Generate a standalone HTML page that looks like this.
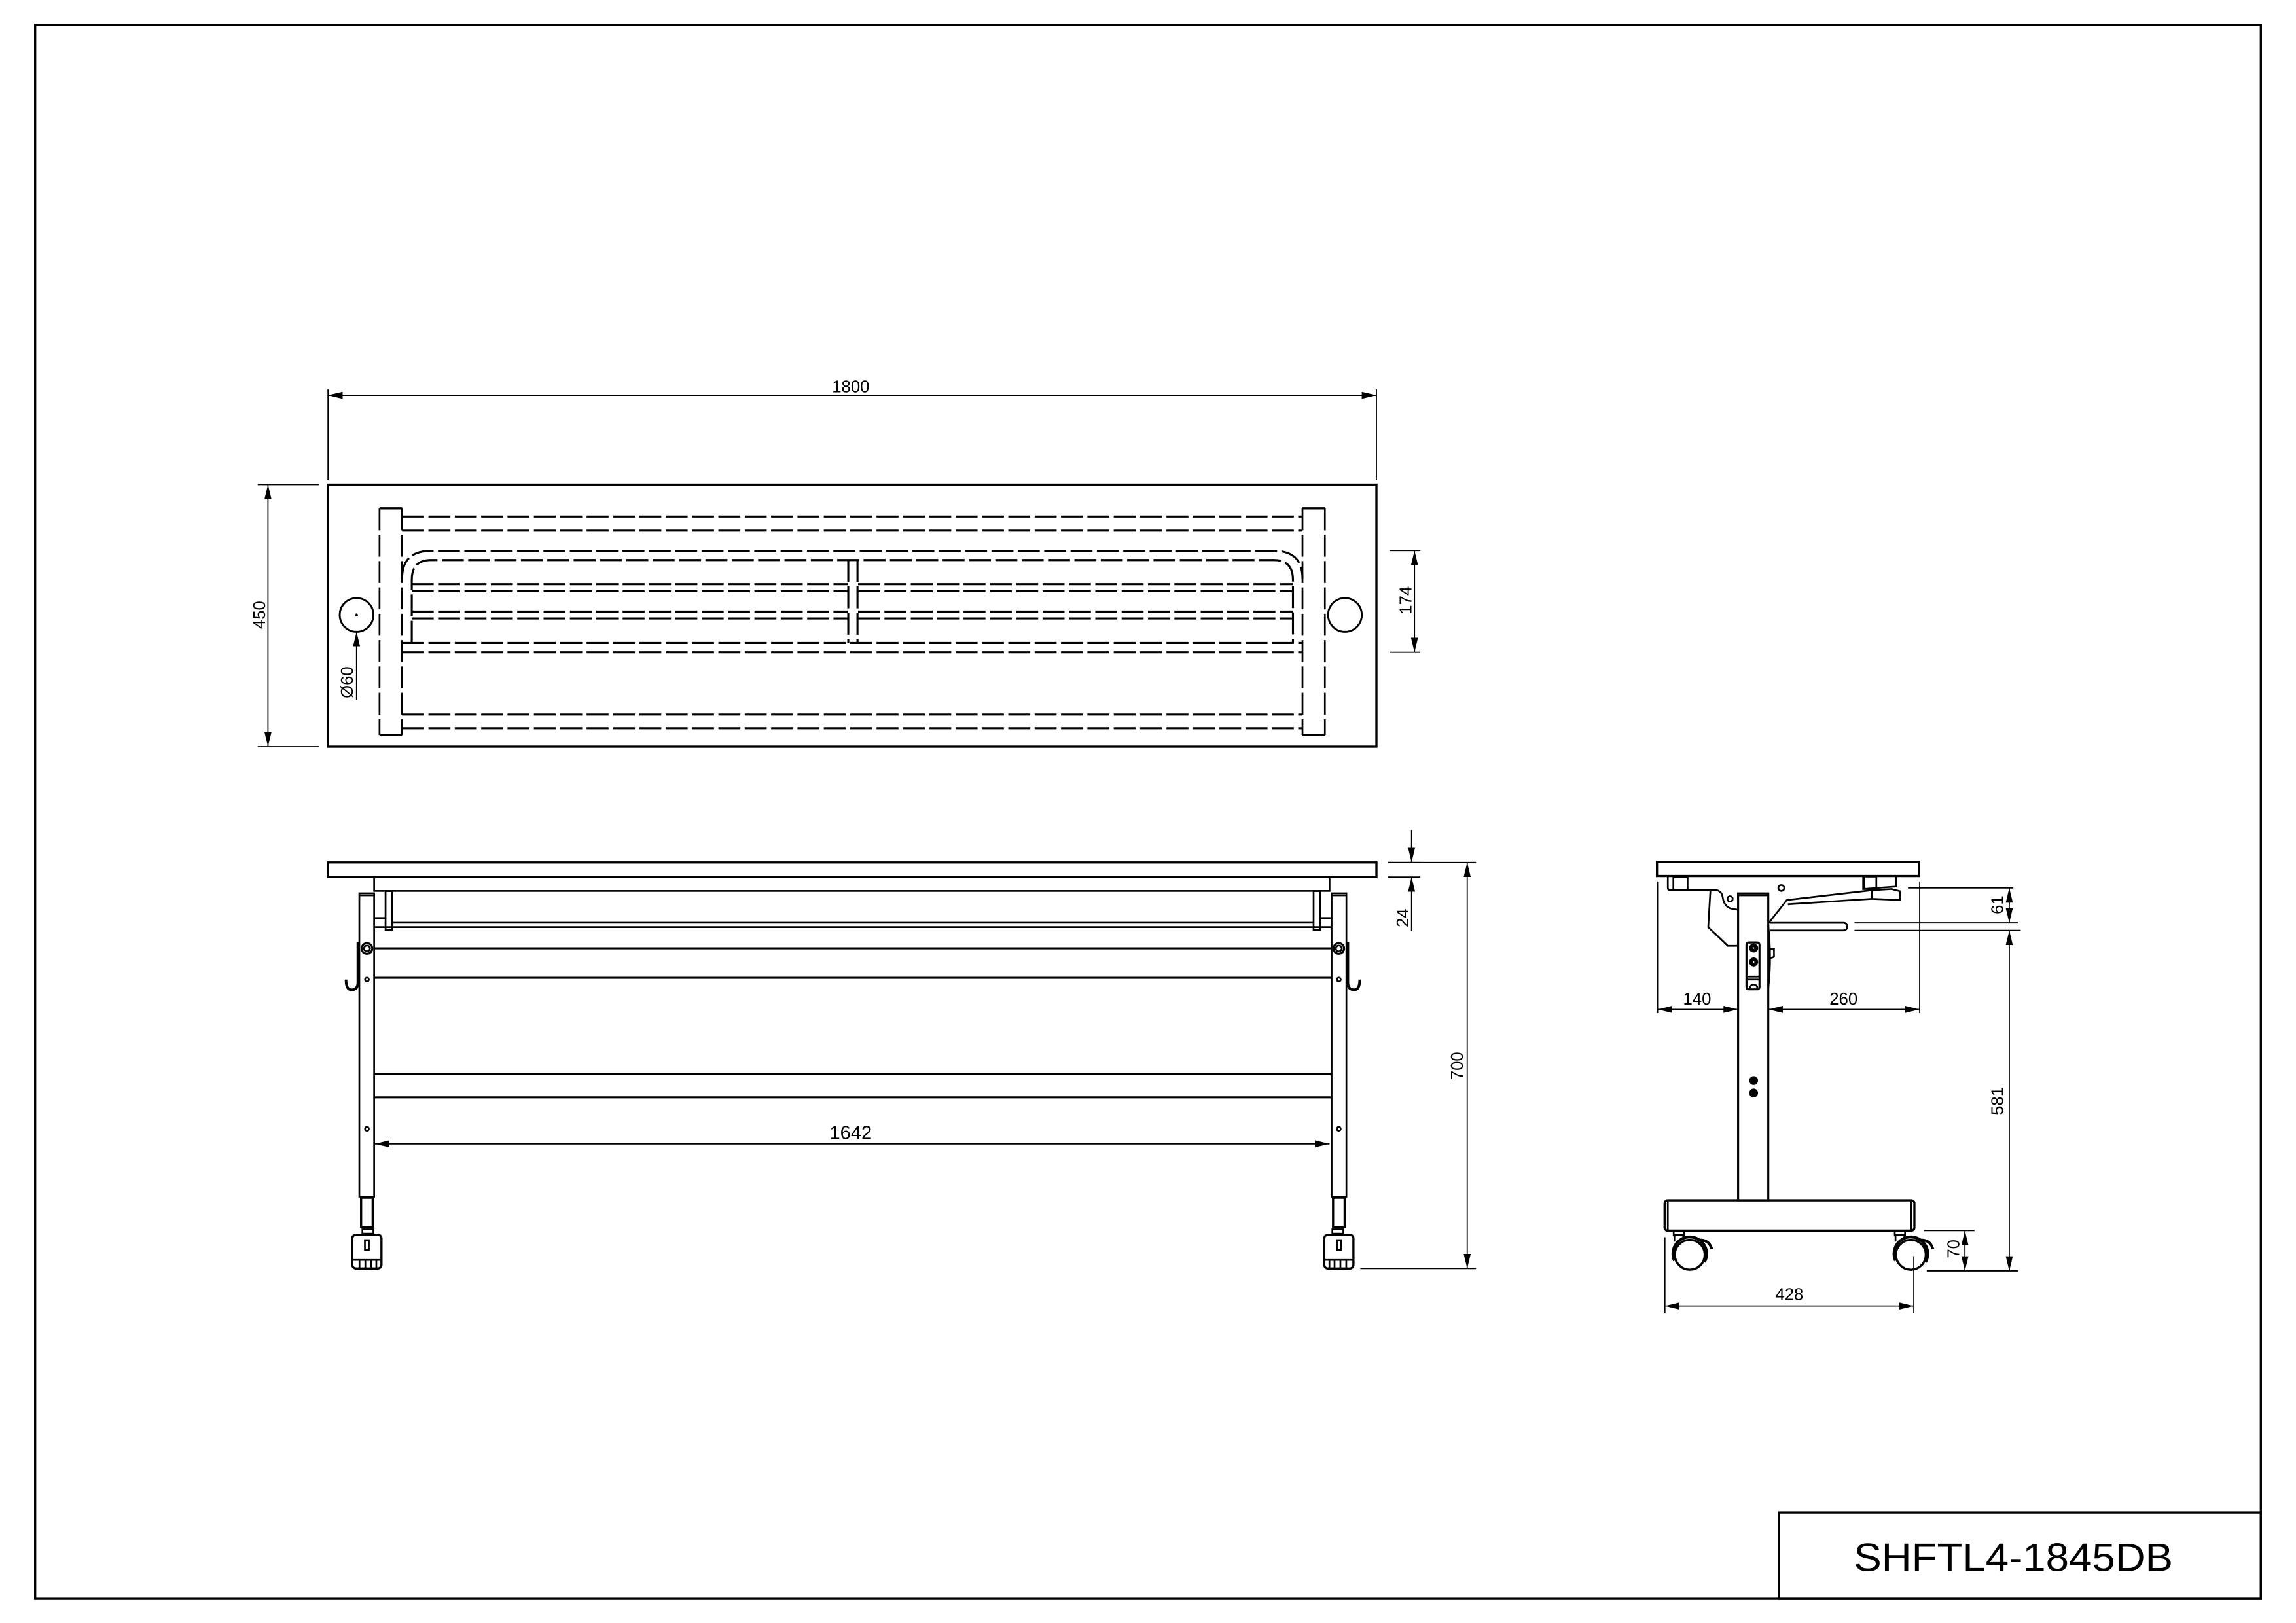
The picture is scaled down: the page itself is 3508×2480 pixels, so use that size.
<!DOCTYPE html>
<html><head><meta charset="utf-8"><style>
html,body{margin:0;padding:0;background:#fff}
svg{display:block}
text{font-family:"Liberation Sans",Arial,sans-serif;fill:#000}
</style></head><body>
<svg width="3508" height="2480" viewBox="0 0 1568 1108.5" preserveAspectRatio="none" xmlns="http://www.w3.org/2000/svg">
<defs>
<marker id="a" viewBox="0 0 10 6" refX="10" refY="3" markerWidth="10" markerHeight="6" markerUnits="userSpaceOnUse" orient="auto-start-reverse"><path d="M0,0.6 L10,3 L0,5.4 Z" fill="#000"/></marker>
</defs>
<g fill="none" stroke="#000" stroke-width="1.2">
<!-- frame -->
<rect x="24" y="17" width="1520" height="1075" stroke-width="1.5"/>
<rect x="1215" y="1033" width="329" height="59" stroke-width="1.5"/>

<!-- ===== TOP VIEW ===== -->
<rect x="224" y="331" width="716" height="179" stroke-width="1.5"/>
<line x1="224" y1="266" x2="224" y2="328" stroke-width="0.8"/>
<line x1="940" y1="266" x2="940" y2="328" stroke-width="0.8"/>
<line x1="224" y1="270" x2="940" y2="270" stroke-width="0.8" marker-start="url(#a)" marker-end="url(#a)"/>
<line x1="176" y1="331" x2="218" y2="331" stroke-width="0.8"/>
<line x1="176" y1="510" x2="218" y2="510" stroke-width="0.8"/>
<line x1="183" y1="331" x2="183" y2="510" stroke-width="0.8" marker-start="url(#a)" marker-end="url(#a)"/>
<line x1="949" y1="376" x2="970" y2="376" stroke-width="0.8"/>
<line x1="949" y1="445.5" x2="970" y2="445.5" stroke-width="0.8"/>
<line x1="966" y1="376" x2="966" y2="445.5" stroke-width="0.8" marker-start="url(#a)" marker-end="url(#a)"/>
<circle cx="243.5" cy="420" r="11.5" stroke-width="1.3"/>
<circle cx="243.5" cy="420" r="0.4" fill="#000"/>
<circle cx="918.5" cy="420" r="11.5" stroke-width="1.3"/>
<line x1="243.5" y1="478" x2="243.5" y2="431.5" stroke-width="0.8" marker-end="url(#a)"/>
<line x1="259.2" y1="347.2" x2="274.6" y2="347.2" stroke-width="1.5"/>
<line x1="259.2" y1="502" x2="274.6" y2="502" stroke-width="1.5"/>
<line x1="259.2" y1="347.2" x2="259.2" y2="502" stroke-dasharray="15 3"/>
<line x1="274.6" y1="347.2" x2="274.6" y2="502" stroke-dasharray="15 3"/>
<line x1="889.5" y1="347.2" x2="904.8" y2="347.2" stroke-width="1.5"/>
<line x1="889.5" y1="502" x2="904.8" y2="502" stroke-width="1.5"/>
<line x1="889.5" y1="347.2" x2="889.5" y2="502" stroke-dasharray="15 3"/>
<line x1="904.8" y1="347.2" x2="904.8" y2="502" stroke-dasharray="15 3"/>
<g stroke-dasharray="15 3" stroke-width="1.4">
<line x1="274.6" y1="352.8" x2="889.5" y2="352.8"/>
<line x1="274.6" y1="362.4" x2="889.5" y2="362.4"/>
<line x1="274.6" y1="439.1" x2="889.5" y2="439.1"/>
<line x1="274.6" y1="445.5" x2="889.5" y2="445.5"/>
<line x1="274.6" y1="488" x2="889.5" y2="488"/>
<line x1="274.6" y1="497.4" x2="889.5" y2="497.4"/>
<path d="M274.6,395 Q274.6,376.2 294.3,376.2 L870,376.2 Q889.5,376.2 889.5,395"/>
<path d="M281.2,439 L281.2,396 Q281.2,382.5 294.3,382.5 L870,382.5 Q883,382.5 883,396 L883,439"/>
<line x1="281.2" y1="399" x2="579" y2="399"/>
<line x1="281.2" y1="403.8" x2="579" y2="403.8"/>
<line x1="281.2" y1="417.7" x2="579" y2="417.7"/>
<line x1="281.2" y1="422.4" x2="579" y2="422.4"/>
<line x1="586" y1="399" x2="883" y2="399"/>
<line x1="586" y1="403.8" x2="883" y2="403.8"/>
<line x1="586" y1="417.7" x2="883" y2="417.7"/>
<line x1="586" y1="422.4" x2="883" y2="422.4"/>
<line x1="579.3" y1="382.5" x2="579.3" y2="439"/>
<line x1="585.6" y1="382.5" x2="585.6" y2="439"/>
</g>

<!-- ===== FRONT VIEW ===== -->
<rect x="224" y="589" width="716" height="10" stroke-width="1.5"/>
<rect x="255.5" y="599" width="652.5" height="9.5"/>
<line x1="267.8" y1="630.2" x2="897" y2="630.2"/>
<line x1="255.5" y1="633.2" x2="909" y2="633.2"/>
<line x1="255.5" y1="627" x2="263.3" y2="627"/>
<line x1="901" y1="627" x2="909" y2="627"/>
<line x1="255.5" y1="647.7" x2="909" y2="647.7" stroke-width="1.4"/>
<line x1="255.5" y1="667.8" x2="909" y2="667.8" stroke-width="1.4"/>
<line x1="255.5" y1="733.6" x2="909" y2="733.6" stroke-width="1.4"/>
<line x1="255.5" y1="749.5" x2="909" y2="749.5" stroke-width="1.4"/>
<line x1="256" y1="781.2" x2="908" y2="781.2" stroke-width="0.9" marker-start="url(#a)" marker-end="url(#a)"/>
<g id="leg">
<rect x="263.3" y="608.6" width="4.5" height="26.5"/>
<rect x="245.4" y="610.1" width="10.1" height="207.2"/>
<line x1="245.4" y1="611.5" x2="255.5" y2="611.5"/>
<rect x="246.6" y="818" width="7.9" height="20" stroke-width="1.5"/>
<rect x="247.5" y="839.6" width="7.5" height="3"/>
<rect x="240.6" y="843.3" width="19.9" height="23.1" rx="2.5" stroke-width="1.5"/>
<rect x="249.2" y="847" width="2.7" height="6.7"/>
<line x1="241" y1="860.5" x2="260" y2="860.5"/>
<line x1="245.5" y1="860.5" x2="245.5" y2="866"/>
<line x1="249.5" y1="860.5" x2="249.5" y2="866"/>
<line x1="253.5" y1="860.5" x2="253.5" y2="866"/>
<line x1="257" y1="860.5" x2="257" y2="866"/>
<circle cx="250.6" cy="647.8" r="3.6" stroke-width="1.4"/>
<circle cx="250.6" cy="647.8" r="2"/>
<circle cx="250.6" cy="669" r="1.3"/>
<circle cx="250.6" cy="771" r="1.3"/>
<path d="M244.4,643.6 L244.4,671 Q244.4,676 240,676 Q236.3,676 236.3,669" stroke-width="1.8"/>
</g>
<use href="#leg" transform="translate(1164.9,0) scale(-1,1)"/>
<line x1="948" y1="589" x2="970" y2="589" stroke-width="0.8"/>
<line x1="948" y1="599" x2="970" y2="599" stroke-width="0.8"/>
<line x1="964" y1="567" x2="964" y2="589" stroke-width="0.8" marker-end="url(#a)"/>
<line x1="964" y1="636" x2="964" y2="599" stroke-width="0.8" marker-end="url(#a)"/>
<line x1="948" y1="589" x2="1008" y2="589" stroke-width="0.8"/>
<line x1="929" y1="866.4" x2="1008" y2="866.4" stroke-width="0.8"/>
<line x1="1002" y1="589" x2="1002" y2="866.4" stroke-width="0.8" marker-start="url(#a)" marker-end="url(#a)"/>

<!-- ===== SIDE VIEW ===== -->
<rect x="1131.6" y="588.6" width="178.8" height="9.7" stroke-width="1.5"/>
<path d="M1139,598.3 L1139,606.3 Q1139,608 1141,608 L1172.6,608 Q1176,609 1176.5,613 Q1177.5,619 1182,620.5 L1187,621.4"/>
<rect x="1142.8" y="599" width="9.7" height="8.6"/>
<path d="M1168.1,608 L1166.6,633.3 L1180,646 L1187,646"/>
<circle cx="1181.5" cy="613.9" r="1.8"/>
<circle cx="1216.5" cy="606.5" r="2"/>
<path d="M1272.4,598.3 L1272.4,607.2 L1294.8,605.5 L1294.8,598.3"/>
<rect x="1273.2" y="598.7" width="8.2" height="8.5"/>
<path d="M1208,630.3 L1220.3,614.7 L1278.4,608 L1291.8,607.2 L1297.5,608.7 L1297.5,614.7 L1278.4,613.9 L1278.4,608"/>
<line x1="1221" y1="617.6" x2="1278.4" y2="613.9"/>
<path d="M1209.1,630.3 L1259,630.3 A2.6,2.6 0 0 1 1259,635.5 L1209.1,635.5"/>
<line x1="1266.5" y1="630.3" x2="1378" y2="630.3" stroke-width="0.9"/>
<line x1="1266.5" y1="635.5" x2="1380" y2="635.5" stroke-width="0.9"/>
<rect x="1187" y="610.2" width="20.6" height="209.6" stroke-width="1.4"/>
<line x1="1187" y1="611.5" x2="1207.6" y2="611.5"/>
<path d="M1207.6,632 Q1210,655 1207.6,675"/>
<path d="M1207.6,648 L1211.5,648 L1211.5,653.5 L1207.6,655"/>
<rect x="1192.7" y="643.7" width="8.9" height="32" rx="1.5" stroke-width="1.4"/>
<circle cx="1197.6" cy="647.5" r="2.5" fill="#000"/>
<circle cx="1197.6" cy="657" r="2.5" fill="#000"/>
<circle cx="1197.6" cy="647.5" r="0.5" fill="#fff" stroke="none"/>
<circle cx="1197.6" cy="657" r="0.5" fill="#fff" stroke="none"/>
<line x1="1193.5" y1="667" x2="1201" y2="667"/>
<line x1="1193.5" y1="669" x2="1201" y2="669"/>
<path d="M1195,675 A2.6,2.6 0 0 1 1200.2,675"/>
<circle cx="1197.6" cy="738" r="2.4" fill="#000"/>
<circle cx="1197.6" cy="746.5" r="2.4" fill="#000"/>
<rect x="1136.8" y="819.8" width="170.6" height="20.7" rx="2" stroke-width="1.5"/>
<line x1="1139" y1="820.5" x2="1139" y2="840"/>
<line x1="1305.2" y1="820.5" x2="1305.2" y2="840"/>
<g id="wh">
<rect x="1143" y="840.5" width="7" height="3"/>
<line x1="1143.5" y1="843.5" x2="1143.5" y2="848"/>
<line x1="1149.5" y1="843.5" x2="1149.5" y2="846"/>
<circle cx="1154" cy="857" r="10.2" stroke-width="1.5"/>
<path d="M1143.5,861 A11.5,11.5 0 1 1 1164,862" stroke-width="2"/>
<path d="M1159,847 Q1167,846 1169,853" stroke-width="1.8"/>
</g>
<use href="#wh" transform="translate(151,0)"/>
<line x1="1132" y1="602" x2="1132" y2="692" stroke-width="0.8"/>
<line x1="1311" y1="602" x2="1311" y2="692" stroke-width="0.8"/>
<line x1="1132" y1="689.4" x2="1187" y2="689.4" stroke-width="0.8" marker-start="url(#a)" marker-end="url(#a)"/>
<line x1="1207.6" y1="689.4" x2="1311" y2="689.4" stroke-width="0.8" marker-start="url(#a)" marker-end="url(#a)"/>
<line x1="1303" y1="606.5" x2="1375" y2="606.5" stroke-width="0.8"/>
<line x1="1372.2" y1="606.5" x2="1372.2" y2="630.3" stroke-width="0.8" marker-start="url(#a)" marker-end="url(#a)"/>
<line x1="1372.2" y1="635.5" x2="1372.2" y2="868" stroke-width="0.8" marker-start="url(#a)" marker-end="url(#a)"/>
<line x1="1314" y1="840.5" x2="1348.4" y2="840.5" stroke-width="0.8"/>
<line x1="1315.8" y1="868" x2="1378" y2="868" stroke-width="0.8"/>
<line x1="1341.9" y1="840.5" x2="1341.9" y2="868" stroke-width="0.8" marker-start="url(#a)" marker-end="url(#a)"/>
<line x1="1137" y1="845" x2="1137" y2="897" stroke-width="0.8"/>
<line x1="1307" y1="858" x2="1307" y2="897" stroke-width="0.8"/>
<line x1="1137" y1="892" x2="1307" y2="892" stroke-width="0.8" marker-start="url(#a)" marker-end="url(#a)"/>
</g>

<g font-size="11.5">
<text x="581" y="268" text-anchor="middle">1800</text>
<text transform="translate(181,420) rotate(-90)" text-anchor="middle">450</text>
<text transform="translate(964,410) rotate(-90)" text-anchor="middle">174</text>
<text transform="translate(241,466) rotate(-90)" text-anchor="middle">Ø60</text>
<text x="581" y="778" text-anchor="middle" font-size="13">1642</text>
<text transform="translate(962,627) rotate(-90)" text-anchor="middle">24</text>
<text transform="translate(999,728) rotate(-90)" text-anchor="middle">700</text>
<text x="1159" y="686" text-anchor="middle">140</text>
<text x="1259" y="686" text-anchor="middle">260</text>
<text transform="translate(1368,618) rotate(-90)" text-anchor="middle">61</text>
<text transform="translate(1368,752) rotate(-90)" text-anchor="middle">581</text>
<text transform="translate(1338,853) rotate(-90)" text-anchor="middle">70</text>
<text x="1222" y="888" text-anchor="middle">428</text>
</g>
<text x="1375" y="1073" text-anchor="middle" font-size="27" textLength="218" lengthAdjust="spacingAndGlyphs">SHFTL4-1845DB</text>
</svg>
</body></html>
